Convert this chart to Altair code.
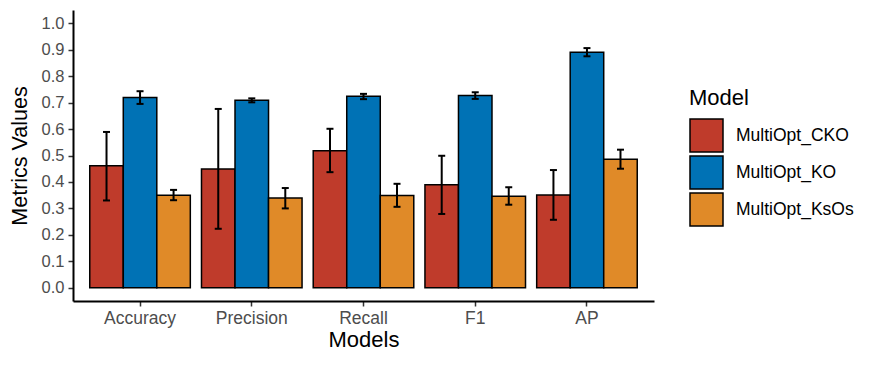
import altair as alt
import pandas as pd

metrics = ["Accuracy", "Precision", "Recall", "F1", "AP"]
models = ["MultiOpt_CKO", "MultiOpt_KO", "MultiOpt_KsOs"]
colors = ["#BF3B2B", "#0072B5", "#E08A28"]

cko_mean = [0.461, 0.449, 0.518, 0.389, 0.351]
cko_low = [0.330, 0.223, 0.437, 0.279, 0.257]
cko_high = [0.589, 0.676, 0.601, 0.499, 0.445]

ko_mean = [0.719, 0.709, 0.724, 0.727, 0.890]
ko_low = [0.695, 0.701, 0.713, 0.714, 0.875]
ko_high = [0.743, 0.716, 0.733, 0.739, 0.906]

ksos_mean = [0.350, 0.339, 0.349, 0.346, 0.486]
ksos_low = [0.331, 0.300, 0.306, 0.314, 0.450]
ksos_high = [0.370, 0.377, 0.393, 0.380, 0.522]

y_ticks = [0.0, 0.1, 0.2, 0.3, 0.4, 0.5, 0.6, 0.7, 0.8, 0.9, 1.0]

rows = []
for model, means, lows, highs in [
    ("MultiOpt_CKO", cko_mean, cko_low, cko_high),
    ("MultiOpt_KO", ko_mean, ko_low, ko_high),
    ("MultiOpt_KsOs", ksos_mean, ksos_low, ksos_high),
]:
    for m, v, lo, hi in zip(metrics, means, lows, highs):
        rows.append({"Metric": m, "Model": model, "value": v, "low": lo, "high": hi})
df = pd.DataFrame(rows)

FONT = "Liberation Sans"

common_axis = dict(
    labelFont=FONT,
    titleFont=FONT,
    titleFontWeight="normal",
    titleColor="black",
    domainColor="black",
    domainWidth=2,
    tickColor="#333333",
    tickWidth=1.5,
    tickSize=5,
    grid=False,
    labelOverlap=False,
    labelFlush=False,
)

x_axis = alt.Axis(
    title="Models",
    labelAngle=0,
    labelColor="#4D4D4D",
    labelFontSize=17.5,
    labelPadding=3,
    titleFontSize=22,
    titlePadding=3,
    **common_axis,
)
y_axis = alt.Axis(
    title="Metrics Values",
    values=y_ticks,
    format=".1f",
    labelColor="#4D4D4D",
    labelFontSize=16.5,
    labelPadding=4,
    titleFontSize=21.5,
    titlePadding=10,
    **common_axis,
)
x_scale = alt.Scale(paddingInner=0, paddingOuter=0.1)
xoff = alt.XOffset(
    "Model:N", sort=models, scale=alt.Scale(paddingInner=0, paddingOuter=0.1667)
)
y_scale = alt.Scale(domain=[-0.05, 1.05], nice=False, zero=False)

base = alt.Chart(df)

bars = base.mark_bar(stroke="black", strokeWidth=1.5).encode(
    x=alt.X("Metric:N", sort=metrics, scale=x_scale, axis=x_axis),
    xOffset=xoff,
    y=alt.Y("value:Q", scale=y_scale, axis=y_axis),
    y2=alt.datum(0),
    fill=alt.Fill(
        "Model:N",
        sort=models,
        scale=alt.Scale(domain=models, range=colors),
        legend=alt.Legend(
            title="Model",
            orient="none",
            legendX=616,
            legendY=78,
            titleFontSize=22,
            titleFont=FONT,
            titleFontWeight="normal",
            titleColor="black",
            titlePadding=8,
            labelFontSize=17.5,
            labelFont=FONT,
            labelColor="black",
            labelOffset=12,
            symbolType="square",
            symbolSize=1089,
            symbolStrokeColor="black",
            symbolStrokeWidth=1.5,
            symbolOpacity=1,
            rowPadding=-3,
        ),
    ),
)

err = base.mark_rule(color="black", strokeWidth=2).encode(
    x=alt.X("Metric:N", sort=metrics, scale=x_scale, axis=x_axis),
    xOffset=xoff,
    y=alt.Y("low:Q", scale=y_scale, axis=y_axis),
    y2="high:Q",
)
cap_lo = base.mark_tick(color="black", thickness=2, size=7, opacity=1).encode(
    x=alt.X("Metric:N", sort=metrics, scale=x_scale, axis=x_axis),
    xOffset=xoff,
    y=alt.Y("low:Q", scale=y_scale, axis=y_axis),
)
cap_hi = base.mark_tick(color="black", thickness=2, size=7, opacity=1).encode(
    x=alt.X("Metric:N", sort=metrics, scale=x_scale, axis=x_axis),
    xOffset=xoff,
    y=alt.Y("high:Q", scale=y_scale, axis=y_axis),
)

chart = (
    alt.layer(bars, err, cap_lo, cap_hi)
    .properties(
        width=581,
        height=291,
        background="white",
        autosize=alt.AutoSizeParams(type="none"),
        padding={"left": 65, "top": 2, "right": 218, "bottom": 58},
        view=alt.ViewBackground(stroke="transparent", strokeWidth=0),
    )
    .configure_view(strokeWidth=0, stroke="transparent")
)

chart.save("out.html", embed_options={"renderer": "svg", "actions": False})
